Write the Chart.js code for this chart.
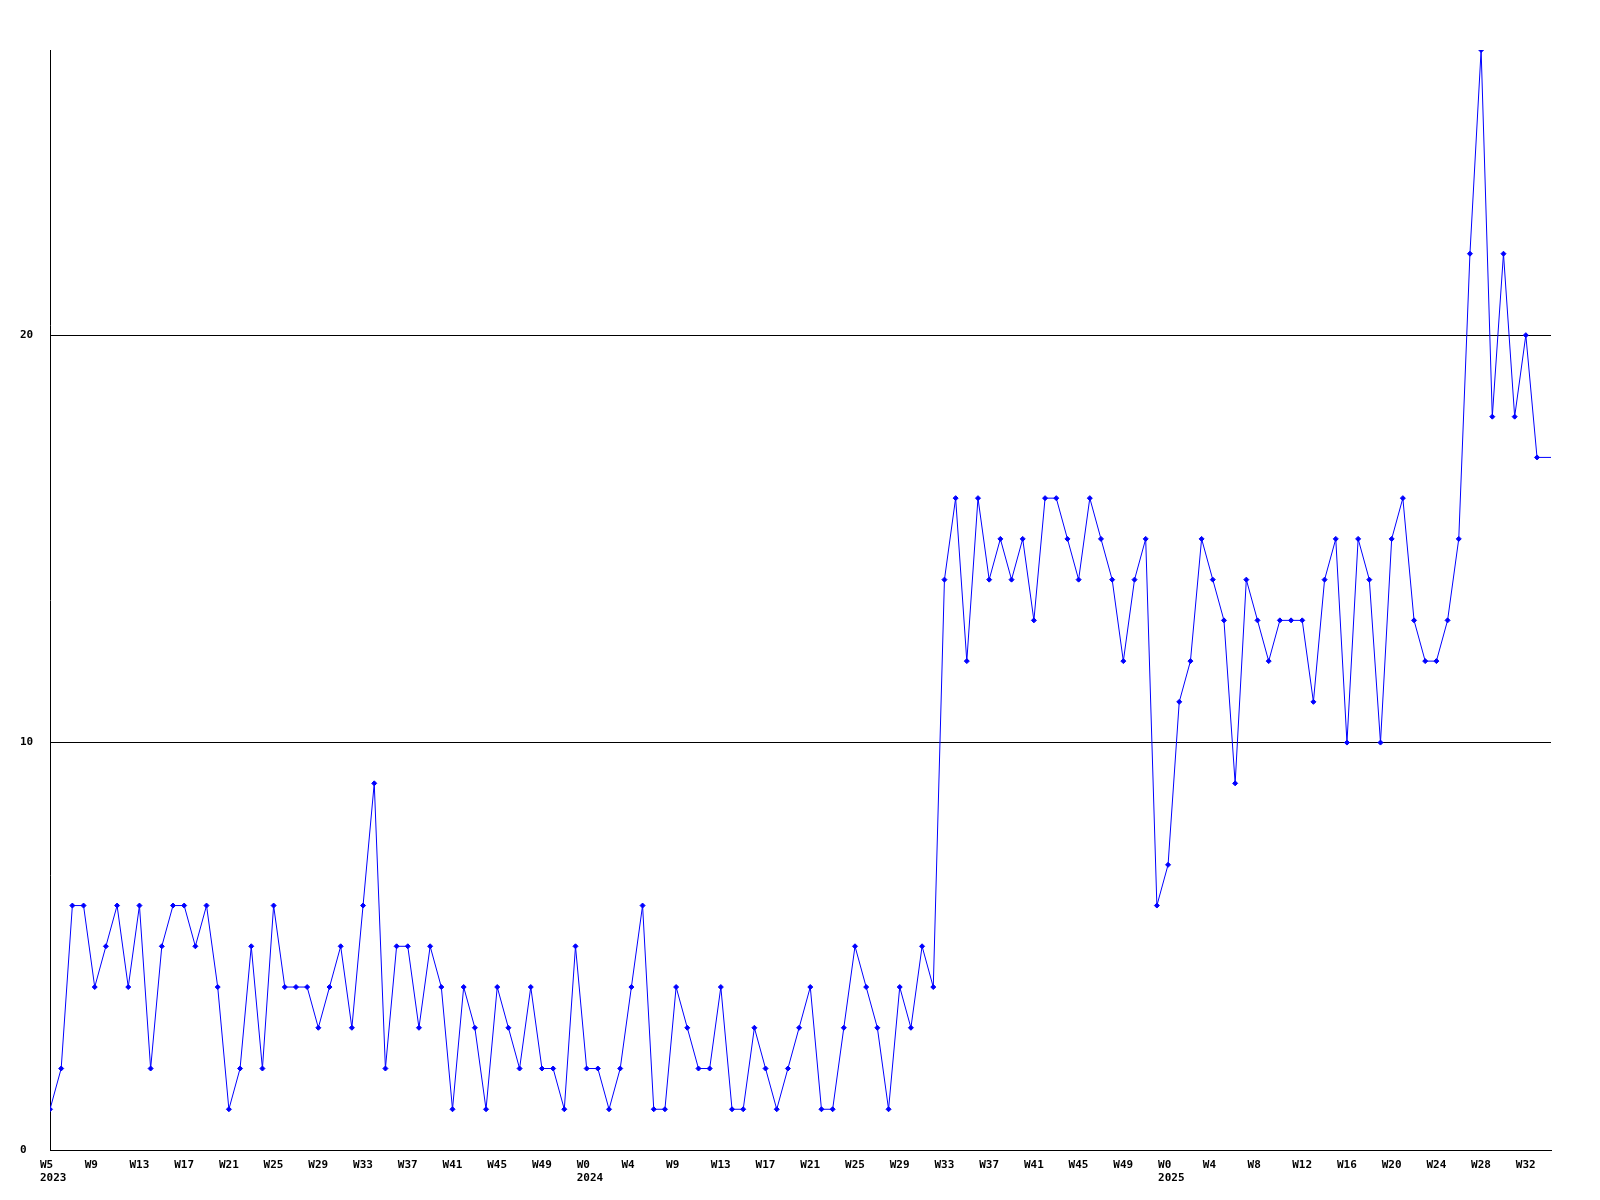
<!DOCTYPE html>
<html>
<head>
<meta charset="utf-8">
<script src="https://cdn.jsdelivr.net/npm/chart.js@4"></script>
<style>
  html, body { margin: 0; padding: 0; background: #fff; }
  canvas { display: block; }
</style>
</head>
<body>
<canvas id="weekChart" width="1600" height="1200"></canvas>
<script>
// weekly counts, W5 2023 .. W33 2025 (one value per week)
const weekValues = [
  1, 2, 6, 6, 4, 5, 6, 4, 6, 2, 5, 6, 6, 5, 6, 4, 1, 2, 5, 2, 6, 4, 4, 4, 3, 4, 5, 3, 6, 9, 2, 5,
  5, 3, 5, 4, 1, 4, 3, 1, 4, 3, 2, 4, 2, 2, 1, 5, 2, 2, 1, 2, 4, 6, 1, 1, 4, 3, 2, 2, 4, 1, 1, 3, 2, 1,
  2, 3, 4, 1, 1, 3, 5, 4, 3, 1, 4, 3, 5, 4,
  14, 16, 12, 16, 14, 15, 14, 15, 13, 16, 16, 15, 14, 16, 15, 14, 12, 14, 15,
  6, 7, 11, 12, 15, 14, 13, 9, 14, 13, 12,
  13, 13, 13, 11, 14, 15, 10, 15, 14, 10, 15, 16, 13, 12, 12, 13, 15, 22, 27, 18, 22, 18, 20, 17
];

// x axis labels, one every 4 weeks
const weekLabels = [
  'W5', 'W9', 'W13', 'W17', 'W21', 'W25', 'W29', 'W33', 'W37', 'W41', 'W45', 'W49',
  'W0', 'W4', 'W9', 'W13', 'W17', 'W21', 'W25', 'W29', 'W33', 'W37', 'W41', 'W45', 'W49',
  'W0', 'W4', 'W8', 'W12', 'W16', 'W20', 'W24', 'W28', 'W32'
];
const yearLabels = ['2023', '', '', '', '', '', '', '', '', '', '', '',
  '2024', '', '', '', '', '', '', '', '', '', '', '', '',
  '2025', '', '', '', '', '', '', '', ''];
const labelStep = 4;

const yTicks = [0, 10, 20];
const yMax = 27;
const xMax = 134.25; // the line is held at its last value up to the right edge

const points = weekValues.map((v, i) => ({ x: i, y: v }));
points.push({ x: xMax, y: weekValues[weekValues.length - 1] });
const radii = points.map((p, i) => (i < weekValues.length ? 2.5 : 0));

const tickFont = { family: 'DejaVu Sans Mono', size: 11, weight: 'bold', lineHeight: '13px' };

new Chart(document.getElementById('weekChart').getContext('2d'), {
  type: 'line',
  data: {
    datasets: [{
      data: points,
      borderColor: '#0000ff',
      backgroundColor: '#0000ff',
      borderWidth: 1,
      pointStyle: 'rectRot',
      pointRadius: radii,
      pointBorderWidth: 1,
      tension: 0
    }]
  },
  options: {
    responsive: false,
    animation: false,
    layout: { padding: { top: 50, right: 49, bottom: 0, left: 20 } },
    plugins: { legend: { display: false }, tooltip: { enabled: false } },
    scales: {
      x: {
        type: 'linear',
        min: 0,
        max: xMax,
        afterBuildTicks: (scale) => {
          scale.ticks = weekLabels.map((w, i) => ({ value: i * labelStep }));
        },
        afterFit: (scale) => { scale.height = 50; },
        grid: { display: false, drawTicks: false },
        border: { display: true, color: '#000', width: 1 },
        ticks: {
          autoSkip: false,
          maxRotation: 0,
          align: 'start',
          labelOffset: -10,
          padding: 9,
          color: '#000',
          font: tickFont,
          callback: (value, i) => (yearLabels[i] ? [weekLabels[i], yearLabels[i]] : weekLabels[i])
        }
      },
      y: {
        min: 0,
        max: yMax,
        afterBuildTicks: (scale) => {
          scale.ticks = yTicks.map((v) => ({ value: v }));
        },
        afterFit: (scale) => { scale.width = 30; },
        grid: { color: '#000', lineWidth: 1, drawTicks: false },
        border: { display: true, color: '#000', width: 1 },
        ticks: {
          crossAlign: 'far',
          color: '#000',
          font: tickFont,
          callback: (value) => String(value)
        }
      }
    }
  }
});
</script>
</body>
</html>
